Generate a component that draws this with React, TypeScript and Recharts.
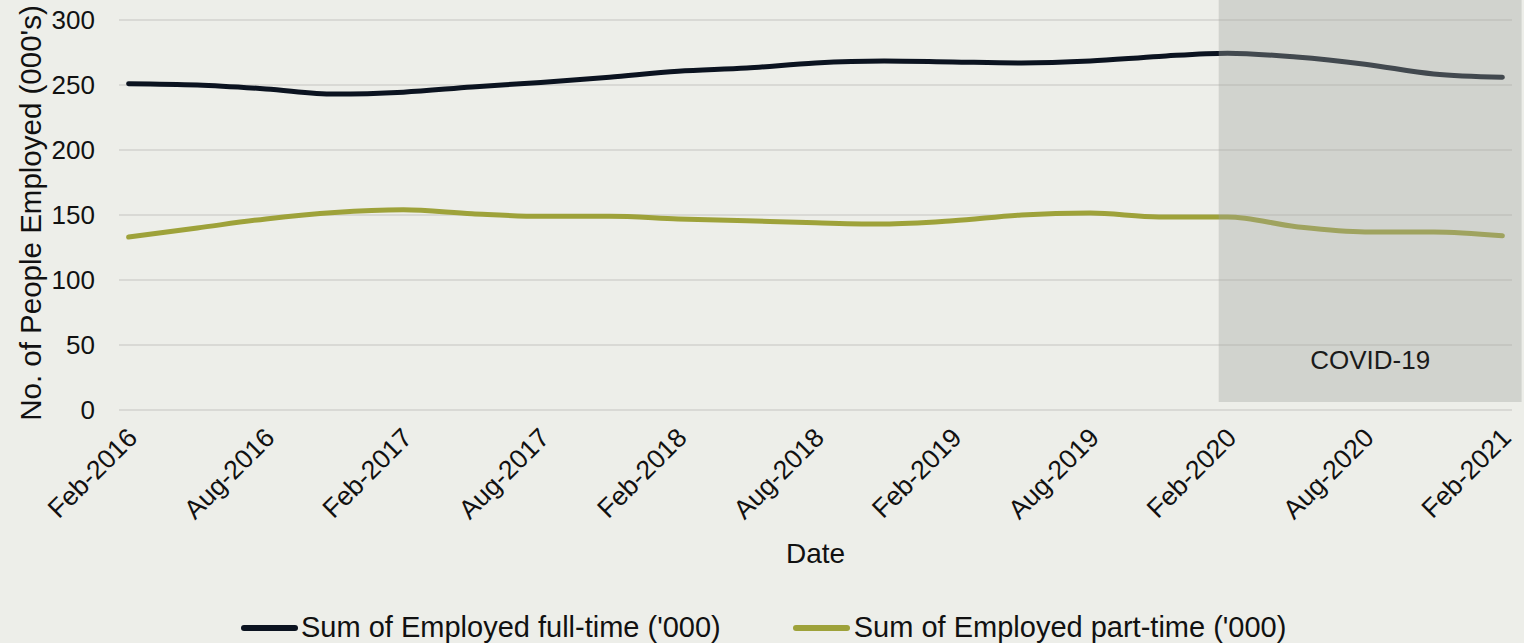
import React from "react";
import { LineChart, Line, XAxis, YAxis, CartesianGrid, ReferenceArea } from "recharts";

const categories = [
  "Feb-2016", "May-2016", "Aug-2016", "Nov-2016",
  "Feb-2017", "May-2017", "Aug-2017", "Nov-2017",
  "Feb-2018", "May-2018", "Aug-2018", "Nov-2018",
  "Feb-2019", "May-2019", "Aug-2019", "Nov-2019",
  "Feb-2020", "May-2020", "Aug-2020", "Nov-2020",
  "Feb-2021",
];
const fullTime = [251, 250, 247, 243, 244.5, 248.5, 252, 256, 260.5, 263, 267, 268.5, 267.7, 267, 268.5, 272, 274.5, 271.5, 266, 258.5, 256];
const partTime = [133, 140, 147, 152, 154, 151, 149, 149, 147, 145.5, 144, 143, 145.5, 150, 151.5, 148.5, 148.5, 141, 137, 137, 134];
const yTicks = [0, 50, 100, 150, 200, 250, 300];
const xTickIdx = [0, 2, 4, 6, 8, 10, 12, 14, 16, 18, 20];

const data = categories.map((c, i) => ({ i, date: c, ft: fullTime[i], pt: partTime[i] }));

const FONT = "'Liberation Sans', Arial, sans-serif";
const BG = "#edeee9";
const FT_COLOR = "#0b1320";
const PT_COLOR = "#9ea23a";

if (typeof document !== "undefined") {
  document.body.style.margin = "0";
  document.body.style.background = BG;
}

export default function App() {
  return (
    <div style={{ position: "relative", width: 1524, height: 643, background: BG, fontFamily: FONT }}>
      <LineChart width={1524} height={643} data={data} margin={{ top: 20, right: 12, left: 0, bottom: 0 }}>
        <CartesianGrid vertical={false} stroke="#d9d9d5" strokeWidth={2} />
        <XAxis
          dataKey="i"
          type="number"
          domain={[-0.14, 20.14]}
          ticks={xTickIdx}
          tickFormatter={(v: number) => categories[v]}
          axisLine={false}
          tickLine={false}
          tickSize={0}
          tickMargin={16}
          angle={-45}
          textAnchor="end"
          height={233}
          interval={0}
          tick={{ fill: "#111", fontSize: 26.5, fontFamily: FONT, dx: -3 }}
          label={{ value: "Date", position: "insideTop", offset: 133, fill: "#111", fontSize: 28, fontFamily: FONT }}
        />
        <YAxis
          domain={[0, 300]}
          ticks={yTicks}
          width={119}
          axisLine={false}
          tickLine={false}
          tickSize={0}
          tickMargin={24}
          tick={{ fill: "#111", fontSize: 26, fontFamily: FONT }}
          label={{ value: "No. of People Employed (000's)", angle: -90, position: "center", dx: -29, dy: -2, fill: "#111", fontSize: 29.5, fontFamily: FONT }}
        />
        <Line type="monotone" dataKey="ft" stroke={FT_COLOR} strokeWidth={5} dot={false} isAnimationActive={false} strokeLinecap="round" />
        <Line type="monotone" dataKey="pt" stroke={PT_COLOR} strokeWidth={5} dot={false} isAnimationActive={false} strokeLinecap="round" />
        <ReferenceArea
          x1={15.87}
          x2={20.28}
          y1={6.15}
          y2={315.4}
          ifOverflow="visible"
          fill="#a4a5a0"
          fillOpacity={0.37}
          stroke="none"
          zIndex={1000}
          label={{ value: "COVID-19", position: "insideBottom", offset: 33, fill: "#1a1a1a", fontSize: 26, fontFamily: FONT }}
        />
      </LineChart>
      <div style={{ position: "absolute", left: 241, top: 611, display: "flex", alignItems: "center", fontSize: 29, color: "#111", whiteSpace: "nowrap" }}>
        <span style={{ display: "inline-block", width: 57, height: 6, borderRadius: 3, background: FT_COLOR, marginRight: 3 }} />
        <span>Sum of Employed full-time ('000)</span>
        <span style={{ display: "inline-block", width: 57, height: 6, borderRadius: 3, background: PT_COLOR, marginLeft: 72, marginRight: 4 }} />
        <span>Sum of Employed part-time ('000)</span>
      </div>
    </div>
  );
}
